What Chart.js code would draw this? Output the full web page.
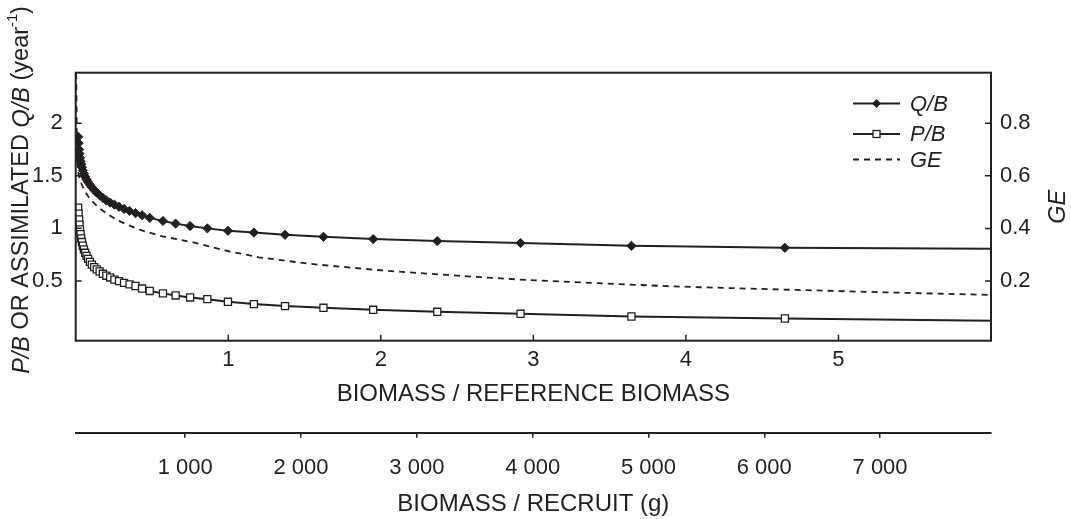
<!DOCTYPE html>
<html>
<head>
<meta charset="utf-8">
<script src="https://cdn.jsdelivr.net/npm/chart.js@4/dist/chart.umd.min.js"></script>
<style>
  html, body { margin: 0; padding: 0; background: #fff; }
  canvas { display: block; }
</style>
</head>
<body>
<canvas id="chart" width="1071" height="519"></canvas>
<script>
// Data
// Biomass / reference biomass at each marked point (Q/B and P/B share them)
const biomassRatio = [0.016, 0.019, 0.022, 0.025, 0.028, 0.032, 0.036, 0.041, 0.047, 0.054,
    0.062, 0.071, 0.081, 0.093, 0.106, 0.121, 0.138, 0.157, 0.178, 0.201,
    0.226, 0.254, 0.284, 0.317, 0.353, 0.392, 0.435, 0.485, 0.572, 0.655,
    0.75, 0.863, 0.998, 1.168, 1.372, 1.624, 1.95, 2.37, 2.916, 3.643, 4.649, 6.0];
const qbValues = [1.87, 1.81, 1.75, 1.71, 1.67, 1.64, 1.61, 1.58, 1.55, 1.52,
    1.49, 1.465, 1.44, 1.415, 1.39, 1.365, 1.34, 1.315, 1.29, 1.265,
    1.245, 1.225, 1.205, 1.185, 1.165, 1.145, 1.125, 1.10, 1.07, 1.045,
    1.022, 1.0, 0.977, 0.96, 0.939, 0.92, 0.898, 0.879, 0.86, 0.834, 0.815, 0.806];
const pbValues = [1.196, 1.14, 1.085, 1.035, 0.99, 0.945, 0.905, 0.87, 0.835, 0.80,
    0.768, 0.738, 0.71, 0.682, 0.655, 0.632, 0.61, 0.59, 0.568, 0.55,
    0.533, 0.513, 0.498, 0.482, 0.467, 0.452, 0.428, 0.405, 0.382, 0.362,
    0.343, 0.327, 0.302, 0.280, 0.261, 0.245, 0.226, 0.207, 0.188, 0.162, 0.143, 0.121];
// GE curve (right axis)
const geBiomass = [0.003, 0.005, 0.007, 0.009, 0.012, 0.016, 0.022, 0.031, 0.045, 0.064,
    0.09, 0.12, 0.16, 0.21, 0.27, 0.33, 0.42, 0.55, 0.77, 0.99,
    1.2, 1.54, 2.01, 2.48, 2.95, 3.42, 3.89, 4.35, 4.73, 5.3, 6.0];
const geValues = [0.99, 0.90, 0.77, 0.69, 0.645, 0.615, 0.598, 0.58, 0.56, 0.538,
    0.515, 0.496, 0.475, 0.454, 0.432, 0.416, 0.395, 0.372, 0.347, 0.315,
    0.29, 0.265, 0.240, 0.221, 0.204, 0.192, 0.180, 0.172, 0.166, 0.157, 0.147];

// Tick labels
const ratioTicks = [1, 2, 3, 4, 5];
const recruitTicks = [1000, 2000, 3000, 4000, 5000, 6000, 7000];
const leftTicks = [0.5, 1, 1.5, 2];
const rightTicks = [0.2, 0.4, 0.6, 0.8];

const INK = '#231f20';
const FAMILY = "'Liberation Sans', Arial, Helvetica, sans-serif";
const tickFont = { family: FAMILY, size: 22 };
const titleFont = { family: FAMILY, size: 24 };

function spaced(v) {
    return String(v).replace(/\B(?=(\d{3})+$)/g, ' ');
}

// Draws the frame, inward ticks, the y titles and the legend
const decorations = {
    id: 'decorations',
    afterDraw(chart) {
        const { ctx, chartArea: a, scales } = chart;
        ctx.save();
        ctx.strokeStyle = INK;
        ctx.lineWidth = 2;
        ctx.strokeRect(a.left, a.top, a.right - a.left, a.bottom - a.top);

        // inward tick marks
        ctx.lineWidth = 1.5;
        ctx.beginPath();
        scales.x.ticks.forEach(t => {
            const px = scales.x.getPixelForValue(t.value);
            ctx.moveTo(px, a.bottom);
            ctx.lineTo(px, a.bottom - 6);
        });
        scales.y.ticks.forEach(t => {
            const py = scales.y.getPixelForValue(t.value);
            ctx.moveTo(a.left, py);
            ctx.lineTo(a.left + 6, py);
        });
        scales.y1.ticks.forEach(t => {
            const py = scales.y1.getPixelForValue(t.value);
            ctx.moveTo(a.right, py);
            ctx.lineTo(a.right - 6, py);
        });
        ctx.stroke();

        // left title, mixed italic / superscript
        const parts = [
            { text: 'P/B', italic: true },
            { text: ' OR ASSIMILATED ' },
            { text: 'Q/B', italic: true },
            { text: ' (year' },
            { text: '-1', sup: true },
            { text: ')' }
        ];
        const size = 23.5;
        const fontOf = p => (p.italic ? 'italic ' : '') + (p.sup ? size * 0.62 : size) + 'px ' + FAMILY;
        let total = 0;
        parts.forEach(p => {
            ctx.font = fontOf(p);
            p.w = ctx.measureText(p.text).width;
            total += p.w;
        });
        ctx.fillStyle = INK;
        ctx.textBaseline = 'middle';
        ctx.textAlign = 'left';
        ctx.save();
        ctx.translate(22, 190);
        ctx.rotate(-Math.PI / 2);
        let x = -total / 2;
        parts.forEach(p => {
            ctx.font = fontOf(p);
            ctx.fillText(p.text, x, p.sup ? -size * 0.38 : 0);
            x += p.w;
        });
        ctx.restore();

        // right title
        ctx.save();
        ctx.translate(1058, (a.top + a.bottom) / 2);
        ctx.rotate(-Math.PI / 2);
        ctx.font = 'italic ' + size + 'px ' + FAMILY;
        ctx.textAlign = 'center';
        ctx.fillText('GE', 0, 0);
        ctx.restore();

        // legend
        const rows = [103.5, 134, 159.5];
        chart.data.datasets.forEach((ds, i) => {
            const y = rows[i];
            ctx.save();
            ctx.strokeStyle = INK;
            ctx.lineWidth = ds.borderWidth;
            ctx.setLineDash(ds.borderDash || []);
            ctx.beginPath();
            ctx.moveTo(853, y);
            ctx.lineTo(900, y);
            ctx.stroke();
            ctx.setLineDash([]);
            if (ds.pointStyle === 'rectRot') {
                ctx.fillStyle = INK;
                ctx.beginPath();
                ctx.moveTo(876.5, y - 4.5);
                ctx.lineTo(881, y);
                ctx.lineTo(876.5, y + 4.5);
                ctx.lineTo(872, y);
                ctx.closePath();
                ctx.fill();
            } else if (ds.pointStyle === 'rect') {
                ctx.fillStyle = '#fff';
                ctx.lineWidth = 1.3;
                ctx.fillRect(873, y - 3.5, 7, 7);
                ctx.strokeRect(873, y - 3.5, 7, 7);
            }
            ctx.fillStyle = INK;
            ctx.font = 'italic 22px ' + FAMILY;
            ctx.textBaseline = 'middle';
            ctx.fillText(ds.label, 910, y + 1);
            ctx.restore();
        });
        ctx.restore();
    }
};

const markerRadius = (r) => biomassRatio.map(x => (x >= 6 ? 0 : r));

new Chart(document.getElementById('chart'), {
    type: 'line',
    data: {
        datasets: [{
            label: 'Q/B',
            data: biomassRatio.map((x, i) => ({ x, y: qbValues[i] })),
            xAxisID: 'x',
            yAxisID: 'y',
            borderColor: INK,
            borderWidth: 2,
            pointStyle: 'rectRot',
            pointRadius: markerRadius(4.6),
            pointBackgroundColor: INK,
            pointBorderColor: INK,
            pointBorderWidth: 1
        }, {
            label: 'P/B',
            data: biomassRatio.map((x, i) => ({ x, y: pbValues[i] })),
            xAxisID: 'x',
            yAxisID: 'y',
            borderColor: INK,
            borderWidth: 2,
            pointStyle: 'rect',
            pointRadius: markerRadius(5),
            pointBackgroundColor: '#fff',
            pointBorderColor: INK,
            pointBorderWidth: 1.3
        }, {
            label: 'GE',
            data: geBiomass.map((x, i) => ({ x, y: geValues[i] })),
            xAxisID: 'x',
            yAxisID: 'y1',
            borderColor: INK,
            borderWidth: 1.8,
            borderDash: [6, 5],
            pointRadius: 0
        }]
    },
    options: {
        responsive: false,
        animation: false,
        events: [],
        layout: { padding: { top: 72.7, left: 0, right: 0, bottom: 0 } },
        plugins: {
            legend: { display: false },
            tooltip: { enabled: false }
        },
        scales: {
            x: {
                type: 'linear',
                position: 'bottom',
                weight: 0,
                min: 0,
                max: 6,
                afterBuildTicks: s => { s.ticks = ratioTicks.map(v => ({ value: v })); },
                afterFit: s => { s.height = 92; },
                grid: { display: false, drawTicks: false },
                border: { display: false },
                ticks: { padding: 6, color: INK, font: tickFont, maxRotation: 0, callback: v => String(v) },
                title: {
                    display: true,
                    text: 'BIOMASS / REFERENCE BIOMASS',
                    color: INK,
                    font: titleFont,
                    padding: { top: 0, bottom: 24 }
                }
            },
            x2: {
                type: 'linear',
                position: 'bottom',
                weight: 1,
                min: 54,
                max: 7958,
                afterBuildTicks: s => { s.ticks = recruitTicks.map(v => ({ value: v })); },
                afterFit: s => { s.height = 86.3; },
                grid: { display: true, drawOnChartArea: false, drawTicks: true, tickLength: 5, color: INK, lineWidth: 1.5 },
                border: { display: true, color: INK, width: 2 },
                ticks: { padding: 17, color: INK, font: tickFont, maxRotation: 0, callback: v => spaced(v) },
                title: {
                    display: true,
                    text: 'BIOMASS / RECRUIT (g)',
                    color: INK,
                    font: titleFont,
                    padding: { top: 0, bottom: 0 }
                }
            },
            y: {
                type: 'linear',
                position: 'left',
                min: -0.068,
                max: 2.48,
                afterBuildTicks: s => { s.ticks = leftTicks.map(v => ({ value: v })); },
                afterFit: s => { s.width = 75.7; },
                grid: { display: false, drawTicks: false },
                border: { display: false },
                ticks: { padding: 13, color: INK, font: tickFont, callback: v => String(v) }
            },
            y1: {
                type: 'linear',
                position: 'right',
                min: -0.027,
                max: 0.992,
                afterBuildTicks: s => { s.ticks = rightTicks.map(v => ({ value: v })); },
                afterFit: s => { s.width = 80; },
                grid: { display: false, drawTicks: false },
                border: { display: false },
                ticks: { padding: 9, color: INK, font: tickFont, callback: v => String(v) }
            }
        }
    },
    plugins: [decorations]
});
</script>
</body>
</html>
